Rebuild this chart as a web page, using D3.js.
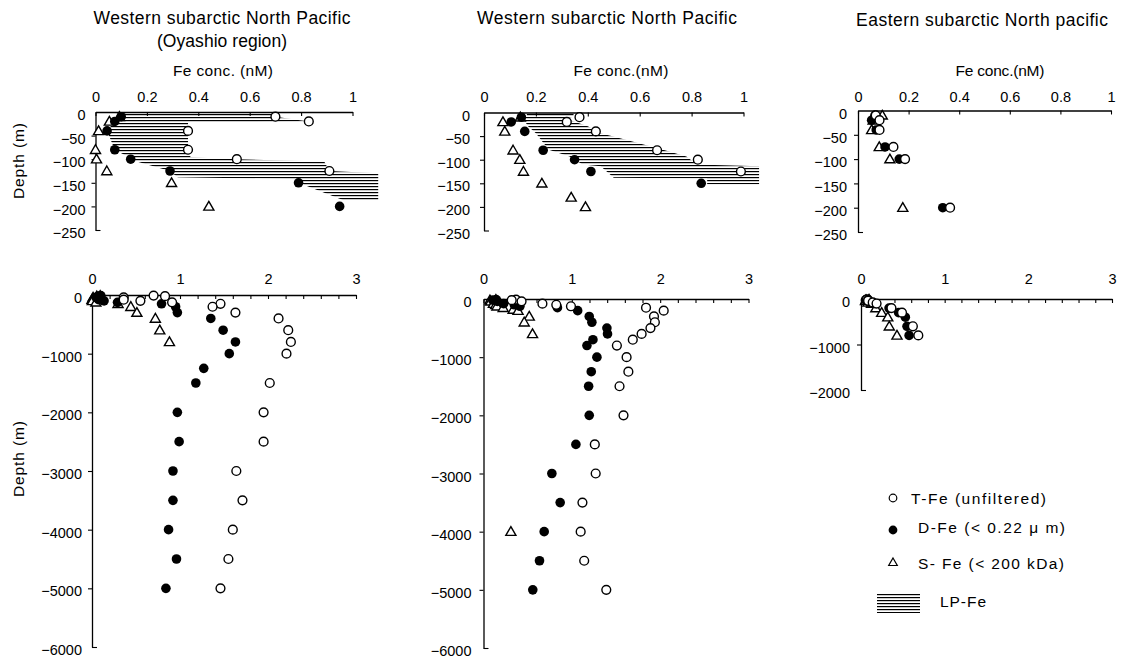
<!DOCTYPE html>
<html><head><meta charset="utf-8">
<script src="https://cdn.jsdelivr.net/npm/d3@7"></script>
<style>
body{margin:0;background:#fff;}
text{font-family:"Liberation Sans",Arial,sans-serif;fill:#000;}
</style></head><body>
<svg id="chart" width="1121" height="661"></svg>
<script>
// ---------- DATA (Fe conc. nM vs depth m) ----------
// Western subarctic North Pacific (Oyashio region)
const oyTDepth = [10,20,40,80,100,125,150,200,300,400,600,800,1000,1500,2000,2500,3000,3500,4000,4500,5000];
const oyTFe    = [0.70,0.83,0.36,0.36,0.55,0.91,1.46,1.37,1.63,2.12,2.23,2.26,2.21,2.02,1.95,1.95,1.64,1.71,1.60,1.55,1.46];
const oyDDepth = [10,20,40,80,100,125,150,200,300,400,600,800,1000,1250,1500,2000,2500,3000,3500,4000,4500,5000];
const oyDFe    = [0.10,0.075,0.045,0.075,0.137,0.29,0.79,0.95,0.97,1.35,1.49,1.63,1.56,1.27,1.18,0.97,0.99,0.92,0.92,0.87,0.96,0.84];
const oySDepth = [10,20,40,80,100,125,150,200,300,400,600,800];
const oySFe    = [0.093,0.054,0.012,0.0,0.004,0.044,0.296,0.441,0.51,0.72,0.77,0.88];
// LP-Fe band (upper 250 m, Oyashio)
const lpOyDepth = [2,10,20,23,40,80,96,100,105,125,130,138,142,150,188];
const lpOyLo    = [0.11,0.10,0.075,0.07,0.045,0.075,0.13,0.137,0.16,0.29,0.30,0.32,0.78,0.79,0.97];
const lpOyHi    = [0.70,0.70,0.83,0.36,0.36,0.36,0.37,0.55,0.89,0.91,1.1,1.1,1.1,1.1,1.1];

// Western subarctic North Pacific
const wTDepth = [10,20,40,80,100,125,150,200,300,400,500,600,700,800,1000,1250,1500,2000,2500,3000,3500,4000,4500,5000];
const wTFe    = [0.368,0.319,0.431,0.667,0.824,0.99,1.84,2.04,1.93,1.94,1.89,1.79,1.69,1.51,1.62,1.64,1.54,1.585,1.26,1.27,1.12,1.10,1.14,1.39];
const wDDepth = [10,20,40,80,100,125,150,200,300,400,500,600,700,800,1000,1250,1500,2000,2500,3000,3500,4000,4500,5000];
const wDFe    = [0.144,0.105,0.157,0.228,0.349,0.412,0.837,1.066,1.197,1.227,1.397,1.404,1.239,1.171,1.284,1.22,1.19,1.197,1.046,0.774,0.868,0.687,0.634,0.558];
const wSDepth = [10,20,40,80,100,125,150,180,200,300,400,600,4000];
const wSFe    = [0.14,0.073,0.08,0.112,0.138,0.152,0.223,0.336,0.391,0.518,0.461,0.555,0.31];
const lpWDepth = [3,9,12,29,44,58,79,93,110,114,138,140,152];
const lpWLo    = [0.165,0.165,0.15,0.17,0.20,0.22,0.25,0.33,0.38,0.45,0.50,0.86,0.86];
const lpWHi    = [0.345,0.345,0.31,0.40,0.45,0.55,0.69,0.78,0.82,1.06,1.06,1.06,1.06];

// Eastern subarctic North Pacific
const eTDepth = [10,20,40,75,100,200,300,600,800];
const eTFe    = [0.07,0.085,0.085,0.14,0.186,0.364,0.49,0.62,0.685];
const eDDepth = [10,20,40,75,100,200,300,400,600,800];
const eDFe    = [0.067,0.054,0.072,0.107,0.163,0.335,0.45,0.53,0.55,0.575];
const eSDepth = [10,20,40,75,100,200,300,400,600,800];
const eSFe    = [0.096,0.06,0.054,0.084,0.126,0.177,0.247,0.32,0.338,0.43];

const titles = ["Western subarctic North Pacific","Western subarctic North Pacific","Eastern subarctic North pacific"];
const subtitle = "(Oyashio region)";
const xTitles = ["Fe conc. (nM)","Fe conc.(nM)","Fe conc.(nM)"];
const topXTicks = [0,0.2,0.4,0.6,0.8,1];
const botXTicks = [0,0.2,0.4,0.6,0.8,1,1.2,1.4,1.6,1.8,2,2.2,2.4,2.6,2.8,3];
const topYTicks = [0,-50,-100,-150,-200,-250];
const deepYTicks = [0,-1000,-2000,-3000,-4000,-5000,-6000];
const eastDeepYTicks = [0,-1000,-2000];
const legendLabels = ["T-Fe (unfiltered)","D-Fe (< 0.22  \u03bc m)","S- Fe (< 200 kDa)","LP-Fe"];

// ---------- BUILD ----------
const zip = (d, v) => d.map((dd,i)=>({depth:dd, fe:v[i]}));
const zip3 = (d, lo, hi) => d.map((dd,i)=>({depth:dd, lo:lo[i], hi:hi[i]}));
const stations = {
  oy:{T:zip(oyTDepth,oyTFe), D:zip(oyDDepth,oyDFe), S:zip(oySDepth,oySFe)},
  w:{T:zip(wTDepth,wTFe), D:zip(wDDepth,wDFe), S:zip(wSDepth,wSFe)},
  e:{T:zip(eTDepth,eTFe), D:zip(eDDepth,eDFe), S:zip(eSDepth,eSFe)}
};

const svg = d3.select("#chart");
const defs = svg.append("defs");
const pat = defs.append("pattern").attr("id","hatch").attr("patternUnits","userSpaceOnUse")
  .attr("width",8).attr("height",3);
pat.append("rect").attr("x",0).attr("y",0).attr("width",8).attr("height",1.2).attr("fill","#000");

const panels = [
  {st:"oy", xr:[95.5,352.5], xMax:1, yr:[112,230], dMax:250, yt:topYTicks, xt:topXTicks, top:true, lp:zip3(lpOyDepth,lpOyLo,lpOyHi), gap:6},
  {st:"w",  xr:[484,743.5],  xMax:1, yr:[112.5,230.5], dMax:250, yt:topYTicks, xt:topXTicks, top:true, lp:zip3(lpWDepth,lpWLo,lpWHi), gap:10},
  {st:"e",  xr:[858,1111],   xMax:1, yr:[110.5,232], dMax:250, yt:topYTicks, xt:topXTicks, top:true, gap:7},
  {st:"oy", xr:[92,356],     xMax:3, yr:[295,647], dMax:6000, yt:deepYTicks, xt:botXTicks, top:false, gap:6},
  {st:"w",  xr:[483.5,748.5],xMax:3, yr:[299,648], dMax:6000, yt:deepYTicks, xt:botXTicks, top:false, gap:8},
  {st:"e",  xr:[861,1112],   xMax:3, yr:[299,390], dMax:2000, yt:eastDeepYTicks, xt:botXTicks, top:false, gap:7}
];

const tri = d3.symbol().type(d3.symbolTriangle).size(44);
const yFmt = d3.format("d");

panels.forEach(p => {
  const x = d3.scaleLinear().domain([0,p.xMax]).range(p.xr);
  const y = d3.scaleLinear().domain([0,-p.dMax]).range(p.yr);
  const g = svg.append("g");

  if (p.lp) {
    const area = d3.area().y(d=>y(-d.depth)).x0(d=>x(d.lo)).x1(d=>x(d.hi));
    g.append("path").datum(p.lp).attr("d",area).attr("fill","url(#hatch)");
  }

  // x axis (top)
  const fmt = p.top ? (v => v===0?"0":(Math.abs(v-1)<1e-9?"1":v.toFixed(1)))
                    : (v => Math.abs(v-Math.round(v))<1e-6 ? String(Math.round(v)) : "");
  const xPad = p.top ? (p.yr[0]-101.5) : (p.yr[0]-284);
  const xa = g.append("g").attr("transform",`translate(0,${p.yr[0]})`)
    .call(d3.axisTop(x).tickValues(p.xt).tickFormat(fmt).tickSize(-4).tickSizeOuter(0).tickPadding(xPad));
  xa.select(".domain").attr("stroke-width",1.3);
  xa.selectAll(".tick line").attr("stroke-width",1.1);
  xa.selectAll("text").style("font-size","14.5px");

  // y axis (left)
  const ya = g.append("g").attr("transform",`translate(${p.xr[0]},0)`)
    .call(d3.axisLeft(y).tickValues(p.yt).tickFormat(yFmt).tickSize(4).tickSizeOuter(0).tickPadding(p.gap));
  ya.select(".domain").attr("stroke-width",1.3);
  ya.selectAll(".tick line").attr("stroke-width",1.1);
  ya.selectAll(".tick").filter(d=>d===-p.dMax).select("line").attr("x2",5);
  ya.selectAll(".tick").filter(d=>d===0).select("line").remove();
  ya.selectAll("text").style("font-size","14.5px").attr("y",3);

  const st = stations[p.st];
  const inside = d => d.fe <= p.xMax + 1e-9 && d.depth <= p.dMax;
  g.selectAll(".s").data(st.S.filter(inside)).join("path")
    .attr("d",tri).attr("transform",d=>`translate(${x(d.fe)},${y(-d.depth)+0.8})`)
    .attr("fill","#fff").attr("stroke","#000").attr("stroke-width",1.4);
  g.selectAll(".dfe").data(st.D.filter(inside)).join("circle")
    .attr("cx",d=>x(d.fe)).attr("cy",d=>y(-d.depth)).attr("r",4.8).attr("fill","#000");
  g.selectAll(".tfe").data(st.T.filter(inside)).join("circle")
    .attr("cx",d=>x(d.fe)).attr("cy",d=>y(-d.depth)).attr("r",4.4)
    .attr("fill","#fff").attr("stroke","#000").attr("stroke-width",1.4);
});

// titles
const tx = [222, 607, 982];
titles.forEach((t,i)=>{
  svg.append("text").attr("x",tx[i]).attr("y", i===2?26:24).attr("text-anchor","middle")
    .style("font-size","17.5px").attr("textLength", [257,260,252][i]).attr("lengthAdjust","spacing").text(t);
});
svg.append("text").attr("x",222).attr("y",47).attr("text-anchor","middle")
  .style("font-size","17.5px").attr("textLength",130).attr("lengthAdjust","spacing").text(subtitle);
const fx = [223, 621, 1000];
xTitles.forEach((t,i)=>{
  svg.append("text").attr("x",fx[i]).attr("y",75.5).attr("text-anchor","middle")
    .style("font-size","15.5px").attr("textLength",[100,95,89][i]).attr("lengthAdjust","spacing").text(t);
});
// depth labels
[[19,161],[19,459]].forEach(([cx,cy])=>{
  svg.append("text").attr("transform",`translate(${cx+5},${cy}) rotate(-90)`).attr("text-anchor","middle")
    .style("font-size","15.5px").attr("textLength",76).attr("lengthAdjust","spacing").text("Depth (m)");
});

// legend
const lg = svg.append("g");
lg.append("circle").attr("cx",893).attr("cy",498).attr("r",3.8).attr("fill","#fff").attr("stroke","#000").attr("stroke-width",1.2);
lg.append("text").attr("x",911).attr("y",504).style("font-size","15.5px").attr("textLength",135).attr("lengthAdjust","spacing").text(legendLabels[0]);
lg.append("circle").attr("cx",893).attr("cy",530).attr("r",4.4).attr("fill","#000");
lg.append("text").attr("x",918).attr("y",532.5).style("font-size","15.5px").attr("textLength",147).attr("lengthAdjust","spacing").text(legendLabels[1]);
lg.append("path").attr("d",d3.symbol().type(d3.symbolTriangle).size(32)).attr("transform","translate(893,563)")
  .attr("fill","#fff").attr("stroke","#000").attr("stroke-width",1.2);
lg.append("text").attr("x",918).attr("y",569).style("font-size","15.5px").attr("textLength",146).attr("lengthAdjust","spacing").text(legendLabels[2]);
lg.append("rect").attr("x",877).attr("y",593).attr("width",43).attr("height",20).attr("fill","url(#hatch)");
lg.append("text").attr("x",940).attr("y",607).style("font-size","15.5px").attr("textLength",46).attr("lengthAdjust","spacing").text(legendLabels[3]);
</script>
</body></html>
